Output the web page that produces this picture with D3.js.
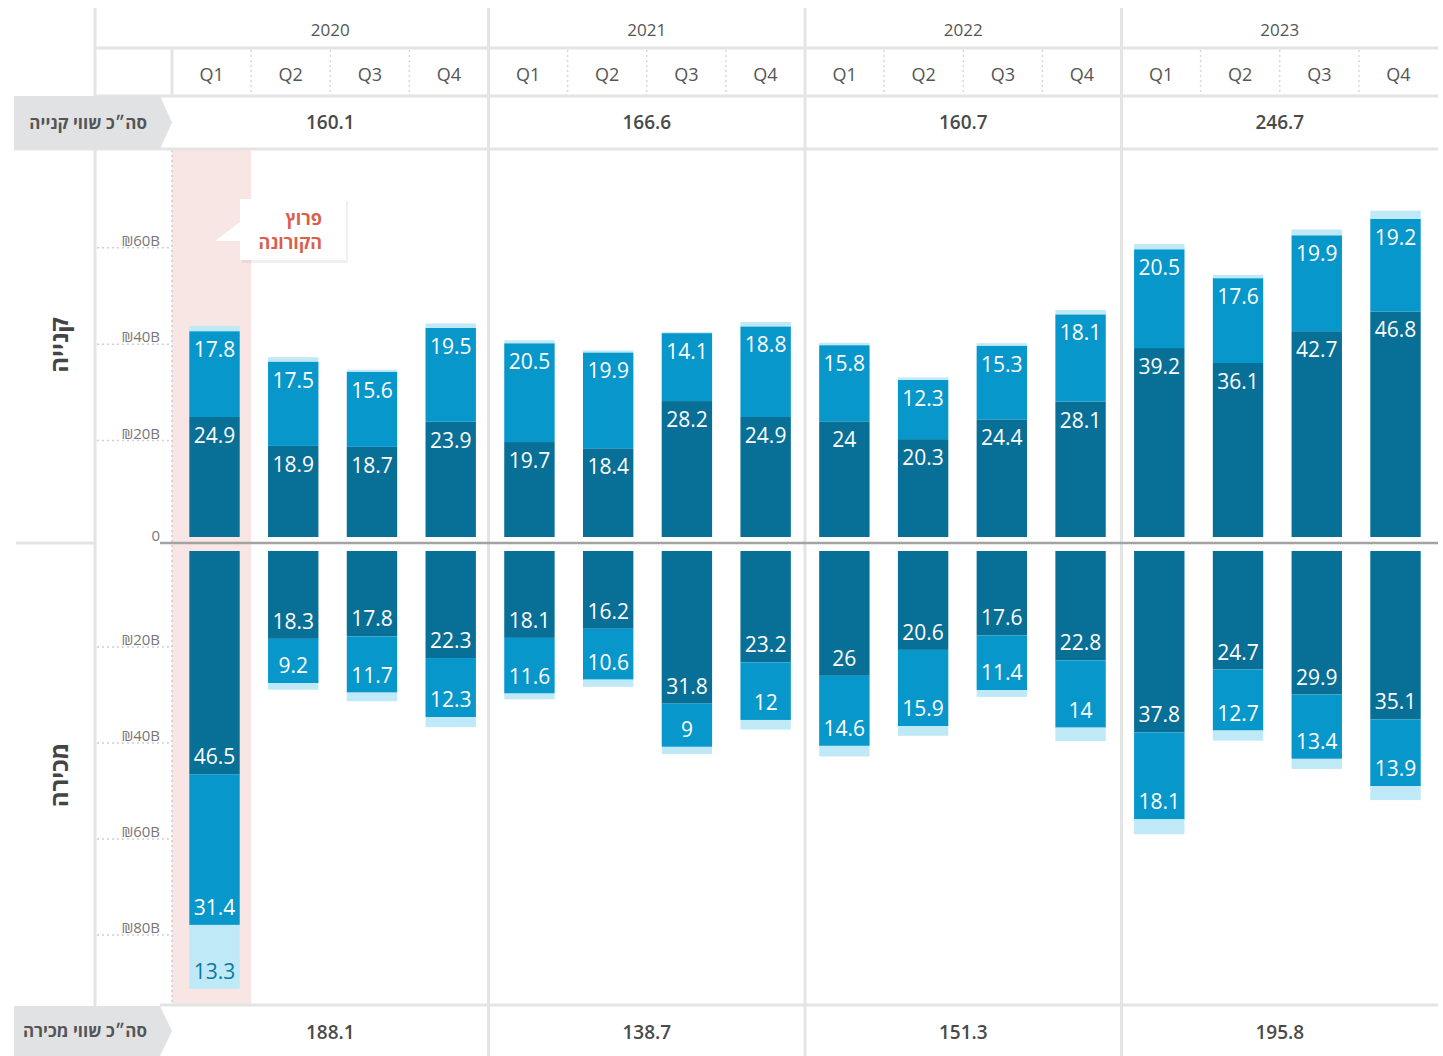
<!DOCTYPE html>
<html>
<head>
<meta charset="utf-8">
<script src="https://cdn.jsdelivr.net/npm/d3@7"></script>
<style>
  body{margin:0;background:#fff;}
  text{font-family:"Open Sans","Liberation Sans",sans-serif;}
</style>
</head>
<body>
<div id="chart"></div>
<script>
// data
var years=["2020","2021","2022","2023"];
var quarters=["Q1","Q2","Q3","Q4"];
var buyTotals=[160.1,166.6,160.7,246.7];
var sellTotals=[188.1,138.7,151.3,195.8];
var buyDark=[24.9,18.9,18.7,23.9, 19.7,18.4,28.2,24.9, 24,20.3,24.4,28.1, 39.2,36.1,42.7,46.8];
var buyMid=[17.8,17.5,15.6,19.5, 20.5,19.9,14.1,18.8, 15.8,12.3,15.3,18.1, 20.5,17.6,19.9,19.2];
var buyLight=[1.1,0.9,0.4,0.9, 0.6,0.4,0.2,0.9, 0.5,0.5,0.5,0.9, 1.1,0.7,1.2,1.7];
var sellDark=[46.5,18.3,17.8,22.3, 18.1,16.2,31.8,23.2, 26,20.6,17.6,22.8, 37.8,24.7,29.9,35.1];
var sellMid=[31.4,9.2,11.7,12.3, 11.6,10.6,9,12, 14.6,15.9,11.4,14, 18.1,12.7,13.4,13.9];
var sellLight=[13.3,1.4,1.8,2.1, 1.2,1.5,1.5,2.0, 2.2,2.0,1.4,2.8, 3.1,2.1,2.1,2.9];
var buyTicks=[0,20,40,60];
var sellTicks=[20,40,60,80];

var W=1443,H=1056;
var colors=["#086f96","#0797cb","#bfe9f6"];
var grid="#e4e4e4";

var svg=d3.select("#chart").append("svg").attr("width",W).attr("height",H);

var keys=[];
years.forEach(function(y){quarters.forEach(function(q){keys.push(y+"-"+q)})});

var x0=172,x1=1438;
var xYear=d3.scaleBand().domain(years).range([x0,x1]);
var xQ=d3.scaleBand().domain(keys).range([x0,x1]).paddingInner(0.36).paddingOuter(0.22);
var xQcell=d3.scaleBand().domain(keys).range([x0,x1]);
var yBuy=d3.scaleLinear().domain([0,60]).range([537,537-60*4.82]);
var ySell=d3.scaleLinear().domain([0,80]).range([551,551+80*4.8]);

// covid highlight
svg.append("rect").attr("x",xQcell(keys[0])).attr("y",150).attr("width",xQcell.bandwidth())
  .attr("height",855).attr("fill","#f8e6e4");
svg.append("line").attr("x1",x0).attr("x2",x0).attr("y1",150).attr("y2",1005)
  .attr("stroke","#d6d6d6").attr("stroke-width",2).attr("stroke-dasharray","2,3");

// structure lines
svg.append("line").attr("x1",95).attr("x2",95).attr("y1",8).attr("y2",H).attr("stroke",grid).attr("stroke-width",3);
years.forEach(function(y,i){
  if(i>0){
    svg.append("line").attr("x1",xYear(y)).attr("x2",xYear(y)).attr("y1",8).attr("y2",H)
      .attr("stroke",grid).attr("stroke-width",3);
  }
});
svg.append("line").attr("x1",x0).attr("x2",x0).attr("y1",48).attr("y2",96).attr("stroke",grid).attr("stroke-width",3);
keys.forEach(function(k,i){
  if(i%4!==0){
    svg.append("line").attr("x1",xQcell(k)).attr("x2",xQcell(k)).attr("y1",50).attr("y2",96)
      .attr("stroke","#d8d8d8").attr("stroke-width",1.5).attr("stroke-dasharray","2,3");
  }
});
[[95,48],[95,96],[14,149],[160,1005]].forEach(function(d){
  svg.append("line").attr("x1",d[0]).attr("x2",x1).attr("y1",d[1]).attr("y2",d[1])
    .attr("stroke",grid).attr("stroke-width",3);
});

// header texts
svg.append("g").selectAll("text").data(years).enter().append("text")
  .attr("x",function(d){return xYear(d)+xYear.bandwidth()/2}).attr("y",36)
  .attr("text-anchor","middle").attr("font-size",17).attr("fill","#555").text(function(d){return d});
svg.append("g").selectAll("text").data(keys).enter().append("text")
  .attr("x",function(d){return xQcell(d)+xQcell.bandwidth()/2}).attr("y",81)
  .attr("text-anchor","middle").attr("font-size",18).attr("fill","#555").text(function(d){return d.split("-")[1]});

// totals rows
function totalRow(vals,yMid){
  svg.append("g").selectAll("text").data(vals).enter().append("text")
    .attr("x",function(d,i){return xYear(years[i])+xYear.bandwidth()/2}).attr("y",yMid+7)
    .attr("text-anchor","middle").attr("font-size",19).attr("font-weight",600).attr("fill","#4a4a4a")
    .text(function(d){return d.toFixed(1)});
}
totalRow(buyTotals,122);
totalRow(sellTotals,1032);

function tag(label,yTop,yBot){
  var ym=(yTop+yBot)/2;
  svg.append("path").attr("d","M14,"+yTop+"L160,"+yTop+"L172,"+ym+"L160,"+yBot+"L14,"+yBot+"Z").attr("fill","#e1e2e4");
  svg.append("text").attr("x",147).attr("y",ym+6).attr("text-anchor","end")
    .attr("font-size",17).attr("font-weight",700).attr("fill","#555").text(label);
}
tag("סה״כ שווי קנייה",96,149);
tag("סה״כ שווי מכירה",1006,1056);

// axis ticks
function ticks(vals,scale){
  vals.forEach(function(v){
    var yy=scale(v);
    if(v===0){yy=543;}
    else{
      svg.append("line").attr("x1",97).attr("x2",172).attr("y1",yy).attr("y2",yy)
        .attr("stroke","#cfcfcf").attr("stroke-width",1.5).attr("stroke-dasharray","2,3");
    }
    svg.append("text").attr("x",160).attr("y",yy-2).attr("text-anchor","end")
      .attr("font-size",15).attr("fill","#777")
      .text(v===0?"0":"\u20AA"+v+"B");
  });
}
ticks(buyTicks,yBuy);
ticks(sellTicks,ySell);

// zero line
svg.append("line").attr("x1",16).attr("x2",95).attr("y1",543).attr("y2",543).attr("stroke",grid).attr("stroke-width",3);
svg.append("line").attr("x1",160).attr("x2",x1).attr("y1",543).attr("y2",543).attr("stroke","#a3a3a3").attr("stroke-width",2.5);

// side labels
svg.append("text").attr("transform","translate(68,345) rotate(-90)").attr("text-anchor","middle")
  .attr("font-size",24).attr("font-weight",700).attr("fill","#444").text("קנייה");
svg.append("text").attr("transform","translate(68,775) rotate(-90)").attr("text-anchor","middle")
  .attr("font-size",24).attr("font-weight",700).attr("fill","#444").text("מכירה");

// stacked bars
function stackRows(a,b,c){
  return keys.map(function(k,i){return {key:k,vals:[a[i],b[i],c[i]]}});
}
var buyRows=stackRows(buyDark,buyMid,buyLight);
var sellRows=stackRows(sellDark,sellMid,sellLight);

function drawBars(rows,scale,up){
  var g=svg.append("g");
  rows.forEach(function(r){
    var acc=0;
    r.vals.forEach(function(v,j){
      var a=scale(acc),b=scale(acc+v);
      var top=Math.min(a,b),h=Math.abs(b-a);
      g.append("rect").attr("x",xQ(r.key)).attr("y",top).attr("width",xQ.bandwidth()).attr("height",h)
        .attr("fill",colors[j]);
      if(v>5){
        var ty=up?top+26:top+h-10;
        g.append("text").attr("x",xQ(r.key)+xQ.bandwidth()/2).attr("y",ty)
          .attr("text-anchor","middle").attr("font-size",21).attr("fill",j===2?"#0a7aa6":"#fff")
          .text(v);
      }
      acc+=v;
    });
  });
}
drawBars(buyRows,yBuy,true);
drawBars(sellRows,ySell,false);

// covid callout
var cg=svg.append("g");
cg.append("rect").attr("x",242).attr("y",201).attr("width",106).attr("height",62).attr("fill","#000").attr("opacity",0.06);
cg.append("path").attr("d","M240,222L215,241L240,241Z").attr("fill","#fff");
cg.append("rect").attr("x",240).attr("y",199).attr("width",106).attr("height",61).attr("fill","#fff");
cg.append("text").attr("x",322).attr("y",225).attr("text-anchor","end")
  .attr("font-size",18).attr("font-weight",700).attr("fill","#d9604c").text("פרוץ");
cg.append("text").attr("x",322).attr("y",249).attr("text-anchor","end")
  .attr("font-size",18).attr("font-weight",700).attr("fill","#d9604c").text("הקורונה");
</script>
</body>
</html>
